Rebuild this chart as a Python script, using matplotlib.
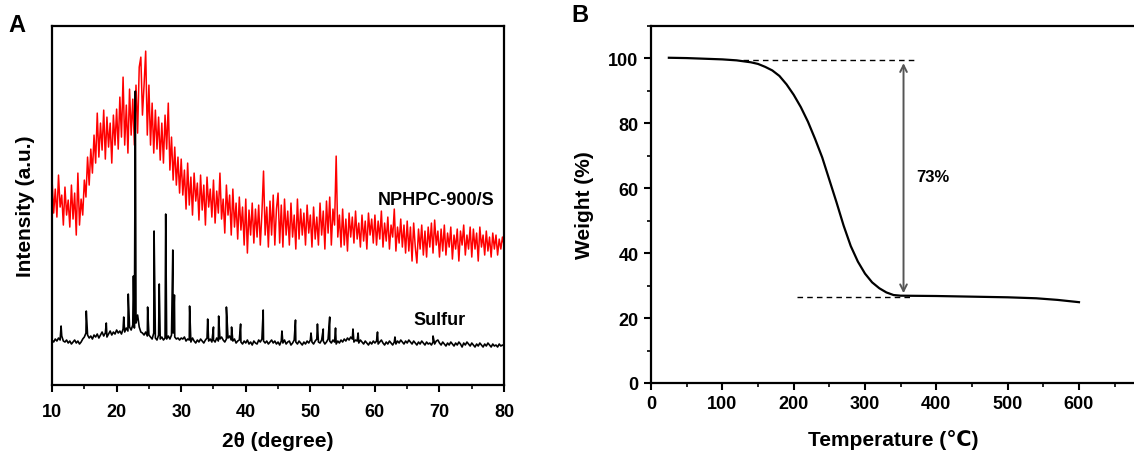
import numpy as np
import matplotlib
matplotlib.use('Agg')
import matplotlib.pyplot as plt
from matplotlib.ticker import MultipleLocator

plt.rcParams['font.family'] = ['Liberation Sans', 'DejaVu Sans']
plt.rcParams['font.weight'] = 'bold'

# ---- 面板 A: XRD ----
xrd_x = np.arange(10, 80.001, 0.25)

# NPHPC-900/S (紅色, 以 0.25 度取值)
nphpc_y = [
    205, 172, 196, 168, 210, 178, 190, 160, 198, 170, 185, 158, 200, 166, 192, 150, 212, 160, 186, 170,
    205, 188, 228, 200, 236, 212, 250, 222, 272, 228, 262, 235, 275, 226, 268, 238, 262, 222, 270, 240,
    276, 236, 288, 248, 308, 240, 280, 232, 296, 250, 286, 240, 300, 252, 318, 328, 270, 300, 334, 250,
    300, 240, 282, 232, 275, 236, 268, 225, 262, 222, 270, 236, 282, 215, 248, 205, 238, 200, 228, 192,
    226, 190, 215, 176, 222, 180, 208, 170, 212, 184, 202, 165, 210, 175, 200, 160, 208, 178, 196, 168,
    205, 162, 194, 172, 212, 166, 186, 152, 200, 170, 190, 150, 196, 158, 182, 146, 188, 155, 178, 140,
    186, 132, 175, 150, 182, 142, 176, 148, 180, 140, 172, 214, 150, 178, 138, 184, 150, 190, 140, 176,
    192, 142, 180, 138, 186, 150, 174, 140, 182, 148, 170, 136, 186, 146, 176, 150, 172, 140, 180, 152,
    170, 138, 178, 146, 168, 140, 182, 150, 174, 136, 184, 152, 188, 140, 176, 160, 229, 148, 170, 138,
    176, 140, 166, 134, 172, 148, 168, 142, 174, 146, 162, 138, 170, 144, 164, 136, 172, 150, 166, 142,
    170, 140, 164, 146, 174, 138, 162, 144, 168, 136, 160, 148, 176, 134, 158, 142, 166, 138, 160, 132,
    164, 134, 158, 124, 162, 138, 122, 156, 136, 160, 130, 154, 128, 158, 138, 162, 132, 165, 140, 154,
    128, 156, 134, 160, 130, 152, 138, 158, 126, 150, 136, 156, 124, 154, 140, 160, 130, 150, 136, 158,
    128, 156, 136, 152, 124, 158, 138, 150, 130, 154, 134, 148, 128, 152, 136, 150, 130, 146, 136, 148,
    140,
]

# Sulfur 基線 (0.25 度取值) 與尖峰
sulfur_base = [
    45, 43, 46, 44, 47, 45, 49, 44, 43, 45, 42, 44, 41, 43, 45, 42, 44, 41, 43, 46,
    48, 52, 50, 47, 49, 46, 50, 48, 51, 47, 50, 53, 49, 52, 48, 51, 54, 50, 53, 51,
    55, 52, 54, 51, 56, 53, 57, 54, 58, 55, 60, 57, 62, 70, 58, 53, 52, 50, 53, 49,
    50, 48, 46, 52, 47, 45, 50, 46, 48, 45, 47, 46, 49, 46, 50, 52, 48, 46, 47, 45,
    47, 46, 48, 44, 46, 45, 43, 47, 44, 42, 45, 43, 46, 44, 42, 45, 47, 44, 46, 43,
    45, 43, 47, 44, 46, 48, 45, 43, 46, 47, 49, 45, 44, 46, 42, 44, 45, 43, 41, 44,
    42, 45, 41, 43, 40, 44, 42, 41, 45, 43, 46, 44, 42, 44, 41, 43, 45, 42, 44, 41,
    43, 40, 44, 42, 45, 41, 43, 44, 40, 42, 45, 43, 41, 44, 42, 40, 43, 41, 44, 42,
    45, 43, 41, 44, 46, 43, 42, 45, 44, 41, 43, 46, 44, 42, 45, 43, 41, 44, 42, 45,
    43, 46, 44, 47, 45, 48, 46, 43, 45, 44, 42, 45, 43, 41, 44, 42, 40, 43, 41, 44,
    42, 44, 41, 43, 45, 42, 40, 43, 41, 44, 42, 40, 43, 41, 44, 42, 45, 43, 41, 44,
    42, 45, 43, 41, 44, 42, 40, 43, 41, 44, 42, 40, 43, 41, 42, 40, 43, 41, 44, 45,
    42, 40, 43, 41, 39, 42, 40, 43, 41, 39, 42, 40, 43, 41, 38, 42, 40, 43, 41, 39,
    42, 40, 38, 41, 39, 42, 40, 38, 41, 39, 42, 40, 38, 41, 39, 40, 38, 41, 39, 40,
    39,
]
peak_pos = [11.4, 15.3, 18.4, 21.1, 21.8, 22.6, 22.9, 24.8, 25.8, 26.6, 27.6, 28.7, 28.95,
            31.3, 34.1, 35.0, 35.8, 37.0, 37.8, 39.2, 42.7, 45.6, 47.7, 50.1, 51.1, 52.0,
            53.0, 53.9, 56.6, 57.4, 60.4, 63.1, 69.0]
peak_h = [59, 74, 62, 68, 91, 109, 294, 78, 154, 101, 171, 135, 90,
          79, 66, 58, 69, 78, 58, 61, 75, 54, 65, 52, 61, 56,
          68, 57, 56, 52, 53, 48, 49]

# ---- 面板 B: TGA ----
temp = [25, 50, 75, 100, 120, 140, 150, 160, 170, 180, 190, 200, 210, 220, 230, 240, 250,
        260, 270, 280, 290, 300, 310, 320, 330, 340, 350, 400, 450, 500, 540, 570, 600]
weight = [100.2, 100.1, 99.9, 99.7, 99.4, 98.8, 98.3, 97.4, 96.3, 94.6, 92.0, 88.8, 85.0,
          80.5, 75.2, 69.5, 62.6, 55.7, 48.5, 42.2, 37.4, 33.7, 31.0, 29.2, 27.9, 27.1,
          26.9, 26.8, 26.6, 26.4, 26.1, 25.6, 24.9]


def style_axes(ax):
    for s in ax.spines.values():
        s.set_linewidth(1.6)
    ax.tick_params(which='major', direction='out', length=5, width=1.5, labelsize=13, pad=4)
    ax.tick_params(which='minor', direction='out', length=3, width=1.2)


fig = plt.figure(figsize=(11.34, 4.56), dpi=100)

# 面板 A
ax1 = fig.add_axes([0.0459, 0.1535, 0.3986, 0.787])
sx = np.concatenate([xrd_x, peak_pos])
sy = np.concatenate([sulfur_base, peak_h])
order = np.argsort(sx)
ax1.plot(xrd_x, nphpc_y, color='#ff0000', lw=1.1, zorder=2)
ax1.plot(sx[order], sy[order], color='black', lw=1.2, zorder=3)
ax1.set_xlim(10, 80)
ax1.set_ylim(0, 359)
ax1.set_yticks([])
ax1.xaxis.set_major_locator(MultipleLocator(10))
ax1.xaxis.set_minor_locator(MultipleLocator(5))
style_axes(ax1)
ax1.tick_params(axis='x', which='major', pad=8)
ax1.set_xlabel('2θ (degree)', fontsize=15, fontweight='bold', labelpad=8)
ax1.set_ylabel('Intensity (a.u.)', fontsize=15, fontweight='bold', labelpad=12)
ax1.text(69.5, 186, 'NPHPC-900/S', fontsize=13, fontweight='bold', ha='center', va='center')
ax1.text(70.0, 66, 'Sulfur', fontsize=13, fontweight='bold', ha='center', va='center')

# 面板 B
ax2 = fig.add_axes([0.5741, 0.1579, 0.4277, 0.783])
ax2.plot(temp, weight, color='black', lw=1.6)
ax2.set_xlim(0, 680)
ax2.set_ylim(0, 110)
ax2.set_xticks([0, 100, 200, 300, 400, 500, 600])
ax2.set_yticks([0, 20, 40, 60, 80, 100])
ax2.xaxis.set_minor_locator(MultipleLocator(50))
ax2.yaxis.set_minor_locator(MultipleLocator(10))
ax2.spines['right'].set_visible(False)
style_axes(ax2)
ax2.set_xlabel('Temperature (℃)', fontsize=15, fontweight='bold', labelpad=12)
ax2.set_ylabel('Weight (%)', fontsize=15, fontweight='bold', labelpad=10)

ax2.plot([129, 375], [99.4, 99.4], ls=(0, (4, 3)), color='black', lw=1.0)
ax2.plot([204, 363], [26.6, 26.6], ls=(0, (4, 3)), color='black', lw=1.0)
ax2.annotate('', xy=(354, 99.4), xytext=(354, 26.8),
             arrowprops=dict(arrowstyle='<->', color='#555555', lw=1.4, mutation_scale=12))
ax2.text(372, 63.5, '73%', fontsize=12, fontweight='bold', ha='left', va='center')

fig.text(0.015, 0.945, 'A', fontsize=17, fontweight='bold', ha='center', va='center')
fig.text(0.511, 0.967, 'B', fontsize=17, fontweight='bold', ha='center', va='center')

fig.savefig('out.png', dpi=100)
